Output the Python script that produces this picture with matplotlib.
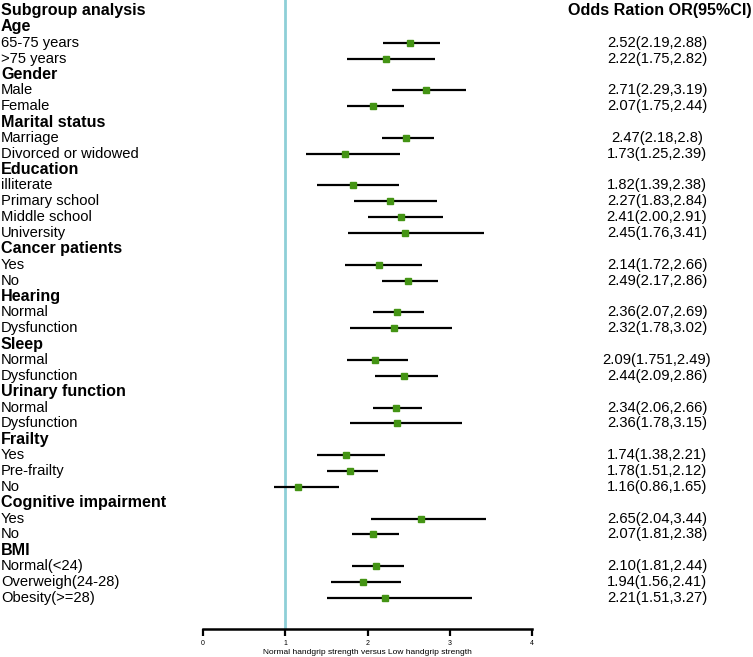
import matplotlib
matplotlib.use("Agg")
import matplotlib.pyplot as plt
import matplotlib.transforms as mtransforms
import numpy as np

plt.rcParams['font.family'] = ['Liberation Sans', 'DejaVu Sans']

# ---- data ----
groups = ["Age", "Gender", "Marital status", "Education", "Cancer patients",
          "Hearing", "Sleep", "Urinary function", "Frailty",
          "Cognitive impairment", "BMI"]
subgroups = [
    ["65-75 years", ">75 years"],
    ["Male", "Female"],
    ["Marriage", "Divorced or widowed"],
    ["illiterate", "Primary school", "Middle school", "University"],
    ["Yes", "No"],
    ["Normal", "Dysfunction"],
    ["Normal", "Dysfunction"],
    ["Normal", "Dysfunction"],
    ["Yes", "Pre-frailty", "No"],
    ["Yes", "No"],
    ["Normal(<24)", "Overweigh(24-28)", "Obesity(>=28)"],
]
odds = [
    [2.52, 2.22], [2.71, 2.07], [2.47, 1.73], [1.82, 2.27, 2.41, 2.45],
    [2.14, 2.49], [2.36, 2.32], [2.09, 2.44], [2.34, 2.36],
    [1.74, 1.78, 1.16], [2.65, 2.07], [2.10, 1.94, 2.21],
]
lower = [
    [2.19, 1.75], [2.29, 1.75], [2.18, 1.25], [1.39, 1.83, 2.00, 1.76],
    [1.72, 2.17], [2.07, 1.78], [1.751, 2.09], [2.06, 1.78],
    [1.38, 1.51, 0.86], [2.04, 1.81], [1.81, 1.56, 1.51],
]
upper = [
    [2.88, 2.82], [3.19, 2.44], [2.80, 2.39], [2.38, 2.84, 2.91, 3.41],
    [2.66, 2.86], [2.69, 3.02], [2.49, 2.86], [2.66, 3.15],
    [2.21, 2.12, 1.65], [3.44, 2.38], [2.44, 2.41, 3.27],
]
or_text = [
    ["2.52(2.19,2.88)", "2.22(1.75,2.82)"],
    ["2.71(2.29,3.19)", "2.07(1.75,2.44)"],
    ["2.47(2.18,2.8)", "1.73(1.25,2.39)"],
    ["1.82(1.39,2.38)", "2.27(1.83,2.84)", "2.41(2.00,2.91)", "2.45(1.76,3.41)"],
    ["2.14(1.72,2.66)", "2.49(2.17,2.86)"],
    ["2.36(2.07,2.69)", "2.32(1.78,3.02)"],
    ["2.09(1.751,2.49)", "2.44(2.09,2.86)"],
    ["2.34(2.06,2.66)", "2.36(1.78,3.15)"],
    ["1.74(1.38,2.21)", "1.78(1.51,2.12)", "1.16(0.86,1.65)"],
    ["2.65(2.04,3.44)", "2.07(1.81,2.38)"],
    ["2.10(1.81,2.44)", "1.94(1.56,2.41)", "2.21(1.51,3.27)"],
]
xticks = [0, 1, 2, 3, 4]
ref_value = 1

W, H = 753, 657
fig = plt.figure(figsize=(W / 100, H / 100), dpi=100)

# axes geometry in pixels
x0_px, x4_px = 203, 532.3
axis_y_px = 629
row0_px, row_step = 11.0, 15.86
y_bottom = (axis_y_px - row0_px) / row_step
y_top = (0 - row0_px) / row_step

ax = fig.add_axes([x0_px / W, (H - axis_y_px) / H, (x4_px - x0_px) / W, axis_y_px / H])
ax.set_xlim(0, 4)
ax.set_ylim(y_bottom, y_top)
ax.patch.set_alpha(0)
for s in ["top", "right", "left"]:
    ax.spines[s].set_visible(False)
ax.spines["bottom"].set_linewidth(1.8)
ax.set_yticks([])
ax.set_xticks(xticks)
ax.set_xticklabels([str(t) for t in xticks], fontsize=5)
ax.tick_params(axis="x", length=5, width=1.6, pad=3)
ax.set_xlabel("Normal handgrip strength versus Low handgrip strength", fontsize=6, labelpad=1)

ax.axvline(ref_value, color="#8ECFD7", lw=2, zorder=1)

trans_left = mtransforms.blended_transform_factory(fig.transFigure, ax.transData)

head_fs = 11.6
sub_fs = 10.6

fig.text(1 / W, 1 - row0_px / H, "Subgroup analysis", fontsize=head_fs, fontweight="bold",
         ha="left", va="center")
fig.text(752 / W, 1 - row0_px / H, "Odds Ration OR(95%CI)", fontsize=head_fs, fontweight="bold",
         ha="right", va="center")

row = 1
for g, subs, ors, los, his, txts in zip(groups, subgroups, odds, lower, upper, or_text):
    ax.text(1 / W, row, g, transform=trans_left, fontsize=head_fs, fontweight="bold",
            ha="left", va="center")
    row += 1
    for s, o, lo, hi, t in zip(subs, ors, los, his, txts):
        ax.text(1 / W, row, s, transform=trans_left, fontsize=sub_fs, ha="left", va="center")
        ax.plot([lo, hi], [row, row], color="black", lw=1.6, zorder=2, solid_capstyle="butt")
        ax.plot([o], [row], marker="s", ms=5, color="#449414", mec="#449414", zorder=3)
        ax.text(657 / W, row, t, transform=trans_left, fontsize=sub_fs, ha="center", va="center")
        row += 1

fig.savefig("out.png", dpi=100)
